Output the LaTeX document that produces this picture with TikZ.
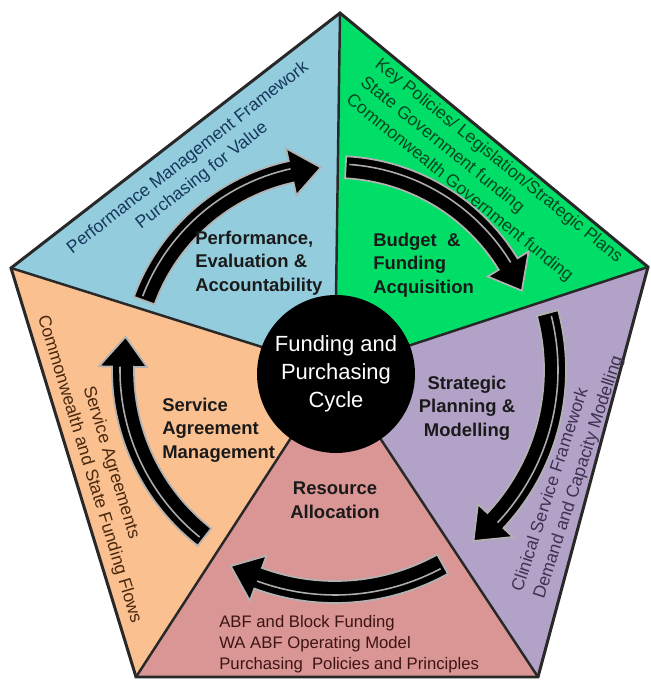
\documentclass[tikz,border=0pt]{standalone}
\usepackage{fontspec}
\setmainfont{Liberation Sans}
\usepackage{tikz}
\usetikzlibrary{positioning}

\definecolor{bluesec}{RGB}{147,205,221}
\definecolor{greensec}{RGB}{0,222,104}
\definecolor{purplesec}{RGB}{179,162,199}
\definecolor{redsec}{RGB}{217,150,148}
\definecolor{orangesec}{RGB}{250,192,144}
\definecolor{rimgray}{RGB}{40,40,40}
\definecolor{bluetext}{RGB}{23,55,94}
\definecolor{greentext}{RGB}{8,72,32}
\definecolor{purpletext}{RGB}{63,49,81}
\definecolor{orangetext}{RGB}{73,40,14}
\definecolor{redtext}{RGB}{60,20,20}
\definecolor{phasetext}{RGB}{26,26,26}

\begin{document}
\begin{tikzpicture}[x=0.02cm,y=0.02cm,
    rim/.style={draw=rimgray,line width=1.7pt},
    spoke/.style={draw=rimgray,line width=1.4pt},
    phase/.style={font=\fontsize{10.5}{13.5}\selectfont\bfseries,text=phasetext,inner sep=0pt},
    note/.style={font=\fontsize{10}{13}\selectfont,inner sep=0pt},
    hub/.style={circle,fill=black,text=white,minimum size=3.16cm,inner sep=0pt,
      align=center,font=\fontsize{12.5}{16}\selectfont},
    cyclearrow/.style={fill=black,draw=gray!60,line width=1pt,line join=miter},
    streak/.style={draw=gray!65,line width=0.9pt}]

  \useasboundingbox (0,0) rectangle (651,680);

  \coordinate (mid) at (335,310);
  \coordinate (top) at (340,667);
  \coordinate (right) at (648,413);
  \coordinate (botright) at (538,3);
  \coordinate (botleft) at (136,3);
  \coordinate (left) at (11,412);

  \fill[bluesec] (mid) -- (left) -- (top) -- cycle;
  \fill[greensec] (mid) -- (top) -- (right) -- cycle;
  \fill[purplesec] (mid) -- (right) -- (botright) -- cycle;
  \fill[redsec] (mid) -- (botright) -- (botleft) -- cycle;
  \fill[orangesec] (mid) -- (botleft) -- (left) -- cycle;

  \draw[spoke] (mid) -- (top) (mid) -- (right) (mid) -- (botright)
               (mid) -- (botleft) (mid) -- (left);
  \draw[rim] (top) -- (right) -- (botright) -- (botleft) -- (left) -- cycle;

  \begin{scope}[shift={(mid)}]
    \foreach \tail/\tip/\rad in {160/94/203, 87/23/203, 15/-51/220, -61/-118/222, 232/171/212}{
      \pgfmathsetmacro\headat{\tip+30/\rad*57.3}
      \pgfmathsetmacro\outr{\rad+11}
      \pgfmathsetmacro\inr{\rad-11}
      \pgfmathsetmacro\barbo{\rad+24}
      \pgfmathsetmacro\barbi{\rad-24}
      \pgfmathsetmacro\shine{\rad+3}
      \pgfmathsetmacro\shinefrom{\tail-1}
      \filldraw[cyclearrow] (\tail:\outr) arc[start angle=\tail,end angle=\headat,radius=\outr]
        -- (\headat:\barbo) -- (\tip:\rad) -- (\headat:\barbi) -- (\headat:\inr)
        arc[start angle=\headat,end angle=\tail,radius=\inr] -- cycle;
      \draw[streak] (\shinefrom:\shine) arc[start angle=\shinefrom,end angle=\headat,radius=\shine];
    }
  \end{scope}

  \node[hub] (hub) at (336,306) {Funding and\\Purchasing\\Cycle};

  \node[phase,anchor=west,align=left] (evaluate) at (195,417) {Performance,\\Evaluation \&\\Accountability};
  \node[phase,anchor=west,align=left] (budget) at (373,415) {Budget\ \ \&\\Funding\\Acquisition};
  \node[phase,align=center] (strategic) at (467,272) {Strategic\\Planning \&\\Modelling};
  \node[phase,anchor=west,align=left] (service) at (162,250) {Service\\Agreement\\Management};
  \node[phase,align=center] (resource) at (335,180) {Resource\\Allocation};

  \node[note,text=bluetext,rotate=38,align=center] (pmf) at (195,513)
    {Performance Management Framework\\Purchasing for Value};
  \node[note,text=greentext,rotate=-39,align=left] (policies) at (484,501)
    {Key Policies/ Legislation/Strategic Plans\\State Government funding\\Commonwealth Government funding};
  \node[note,text=purpletext,rotate=72,align=left] (clinical) at (568,206)
    {Clinical Service Framework\\Demand and Capacity Modelling};
  \node[note,text=orangetext,rotate=-73,align=center] (agreements) at (100,214)
    {Service Agreements\\Commonwealth and State Funding Flows};
  \node[note,text=redtext,anchor=west,align=left,font=\fontsize{9.5}{12}\selectfont] (abf) at (219,36)
    {ABF and Block Funding\\WA ABF Operating Model\\Purchasing\ \ Policies and Principles};

\end{tikzpicture}
\end{document}
